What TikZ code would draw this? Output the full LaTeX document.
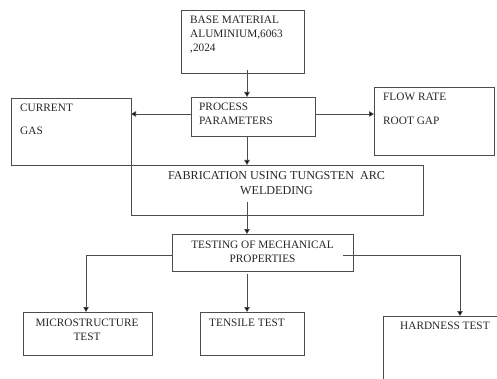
\documentclass[tikz,border=0pt]{standalone}
\usepackage{fontspec}
\setmainfont{Liberation Serif}
\usetikzlibrary{
    arrows.meta,
    calc,
    positioning
}

\begin{document}
\begin{tikzpicture}[x=1pt, y=-1pt,
                        box/.style={draw=black!70, line width=0.8pt, outer sep=0pt, inner sep=0pt},
                        lbl/.style={font=\fontsize{11.3}{14}\selectfont, inner sep=0pt, text=black!85},
                        arr/.style={draw=black!70, line width=0.8pt, -{Triangle[length=5pt, width=5.5pt, fill=black]}}]
                        \clip (0, 0) rectangle (497, 379);
                        \coordinate (spine) at (247, 0);
                        \node[box, minimum width=123pt, minimum height=63pt] (base) at (242.5, 41.5) {};
                        \node[box, minimum width=124pt, minimum height=39pt] (proc) at (253, 116.5) {};
                        \node[box, minimum width=120pt, minimum height=67pt] (cur) at (71, 131.5) {};
                        \node[box, minimum width=120pt, minimum height=68pt] (flow) at (434, 121) {};
                        \node[box, minimum width=292pt, minimum height=50pt] (fab) at (277, 190) {};
                        \node[box, minimum width=181pt, minimum height=37pt] (test) at (262.5, 252.5) {};
                        \node[box, minimum width=129pt, minimum height=43pt] (micro) at (87.5, 333.5) {};
                        \node[box, minimum width=104pt, minimum height=43pt] (tens) at (252, 333.5) {};
                        \node[box, minimum width=147pt, minimum height=104pt] (hard) at (456.5, 368) {};
                        \node[lbl, anchor=north west, align=left] (baseTxt) at (190, 15.5) {BASE MATERIAL\\ALUMINIUM,6063\\,2024};
                        \node[lbl, anchor=north west, align=left] (procTxt) at (199, 103.2) {PROCESS\\PARAMETERS};
                        \node[lbl, anchor=north west, align=left] (curTxt) at (20, 104.2) {CURRENT\\[9pt]GAS};
                        \node[lbl, anchor=north west, align=left] (flowTxt) at (383, 93.2) {FLOW RATE\\[9.7pt]ROOT GAP};
                        \node[lbl, font=\fontsize{12.1}{14.6}\selectfont, anchor=north, align=center] (fabTxt) at (276.5, 171.7) {FABRICATION USING TUNGSTEN~ ARC\\WELDEDING};
                        \node[lbl, anchor=north, align=center] (testTxt) at (262.5, 240.5) {TESTING OF MECHANICAL\\PROPERTIES};
                        \node[lbl, anchor=north, align=center] (microTxt) at (87, 318.5) {MICROSTRUCTURE\\TEST};
                        \node[lbl, anchor=north west] (tensTxt) at (209, 318.9) {TENSILE TEST};
                        \node[lbl, anchor=north west] (hardTxt) at (400, 322.2) {HARDNESS TEST};
                        \draw[arr] ($(base.south -| spine)+(0, 3pt)$) -- (proc.north -| spine);
                        \draw[arr] ($(proc.west)+(0, 2.5pt)$) -- ($(proc.west -| cur.east)+(0, 2.5pt)$);
                        \draw[arr] ($(proc.east)+(0, 2.5pt)$) -- ($(proc.east -| flow.west)+(0, 2.5pt)$);
                        \draw[arr] (proc.south -| spine) -- (fab.north -| spine);
                        \draw[arr] ($(fab.south -| spine)+(0, 13pt)$) -- (test.north -| spine);
                        \draw[arr] ($(test.south -| spine)+(0, -3pt)$) -- (tens.north -| spine);
                        \draw[arr] ($(test.west)+(0, -2.5pt)$) -| ($(micro.north)+(-1.5pt, 0)$);
                        \draw[arr] ($(test.east)+(-10pt, -2.5pt)$) -| ($(hard.north)+(3.5pt, 0)$);
                    \end{tikzpicture}
\end{document}
